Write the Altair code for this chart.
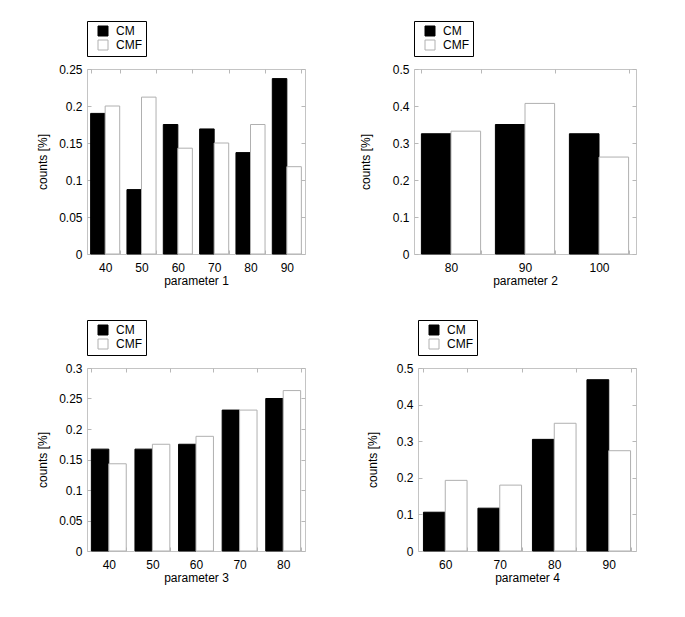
import altair as alt
import pandas as pd

SERIES = ["CM", "CMF"]

p1_labels = ["40", "50", "60", "70", "80", "90"]
p1_cm = [0.190, 0.087, 0.175, 0.169, 0.137, 0.237]
p1_cmf = [0.200, 0.212, 0.143, 0.150, 0.175, 0.118]
p1_yticks = [0, 0.05, 0.1, 0.15, 0.2, 0.25]

p2_labels = ["80", "90", "100"]
p2_cm = [0.325, 0.350, 0.325]
p2_cmf = [0.332, 0.407, 0.262]
p2_yticks = [0, 0.1, 0.2, 0.3, 0.4, 0.5]

p3_labels = ["40", "50", "60", "70", "80"]
p3_cm = [0.167, 0.167, 0.175, 0.231, 0.250]
p3_cmf = [0.143, 0.175, 0.188, 0.231, 0.263]
p3_yticks = [0, 0.05, 0.1, 0.15, 0.2, 0.25, 0.3]

p4_labels = ["60", "70", "80", "90"]
p4_cm = [0.106, 0.117, 0.305, 0.468]
p4_cmf = [0.193, 0.180, 0.349, 0.274]
p4_yticks = [0, 0.1, 0.2, 0.3, 0.4, 0.5]

FONT = "Liberation Sans"
FRAME = "#c4c4c4"
TICK = "#b8b8b8"
LEG_W, LEG_H, LEG_Y = 58, 33, -48


def panel(labels, cm, cmf, yticks, xtitle, width, height, ytitle_pad):
    n = len(labels)
    df = pd.DataFrame({
        "param": labels * 2,
        "series": ["CM"] * n + ["CMF"] * n,
        "value": cm + cmf,
    })
    legend = alt.Legend(title=None, orient="none", legendX=0, legendY=LEG_Y)
    xscale = alt.Scale(paddingInner=0.2, paddingOuter=0.1)
    yscale = alt.Scale(domain=[yticks[0], yticks[-1]], nice=False, zero=True)
    bars = alt.Chart(df).mark_bar(strokeWidth=1).encode(
        x=alt.X("param:O", sort=labels, title=xtitle, scale=xscale,
                axis=alt.Axis(labelAngle=0, tickBand="extent", offset=-4, tickSize=4,
                              domain=False, labelPadding=8, titlePadding=2)),
        xOffset=alt.XOffset("series:N", sort=SERIES,
                            scale=alt.Scale(paddingInner=0, paddingOuter=0)),
        y=alt.Y("value:Q", title="counts [%]", scale=yscale,
                axis=alt.Axis(values=yticks, format="~g", offset=-4, tickSize=4,
                              domain=False, labelPadding=5, titlePadding=ytitle_pad)),
        fill=alt.Fill("series:N", sort=SERIES,
                      scale=alt.Scale(domain=SERIES, range=["black", "white"]),
                      legend=legend),
        stroke=alt.Stroke("series:N", sort=SERIES,
                          scale=alt.Scale(domain=SERIES, range=["black", "#b0b0b0"]),
                          legend=legend),
    )
    ticks = alt.Chart(df).mark_point(opacity=0).encode(
        x=alt.X("param:O", sort=labels,
                axis=alt.Axis(orient="top", labels=False, title=None, tickBand="extent",
                              offset=-4, tickSize=4, domain=False)),
        y=alt.Y("value:Q",
                axis=alt.Axis(orient="right", labels=False, title=None, values=yticks,
                              offset=-4, tickSize=4, domain=False)),
    )
    shadow = alt.Chart(alt.Data(values=[{"s": 1}])).mark_rect(color="black").encode(
        x=alt.value(2), x2=alt.value(LEG_W + 2),
        y=alt.value(LEG_Y + 2), y2=alt.value(LEG_Y + LEG_H + 2),
    )
    return alt.layer(shadow, bars, ticks).resolve_axis(
        x="independent", y="independent"
    ).properties(width=width, height=height)


def indep(c):
    return c.resolve_scale(
        fill="independent", stroke="independent", xOffset="independent"
    ).resolve_legend(fill="independent", stroke="independent")


p1 = panel(p1_labels, p1_cm, p1_cmf, p1_yticks, "parameter 1", 218, 185, 9)
p2 = panel(p2_labels, p2_cm, p2_cmf, p2_yticks, "parameter 2", 222, 185, 20)
p3 = panel(p3_labels, p3_cm, p3_cmf, p3_yticks, "parameter 3", 218, 183, 9)
p4 = panel(p4_labels, p4_cm, p4_cmf, p4_yticks, "parameter 4", 218, 183, 17)

row1 = indep(alt.hconcat(p1, p2, spacing=109, bounds="flush"))
row2 = indep(alt.hconcat(p3, p4, spacing=113, bounds="flush"))

chart = indep(alt.vconcat(row1, row2, spacing=32)).properties(
    padding={"left": 28, "top": 12, "right": 5, "bottom": 5}
).configure_view(
    stroke=FRAME, strokeWidth=1
).configure_axis(
    labelFont=FONT, titleFont=FONT, labelFontSize=12, titleFontSize=12,
    titleFontWeight="normal", labelColor="black", titleColor="black",
    tickColor=TICK, grid=False,
).configure_legend(
    labelFont=FONT, labelFontSize=12, labelColor="black", symbolType="square",
    symbolSize=100, strokeColor="black", fillColor="white", padding=4,
    rowPadding=0, symbolStrokeWidth=1, symbolOffset=6, labelOffset=7,
)

chart.save("out.html", embed_options={"renderer": "svg", "actions": False})
